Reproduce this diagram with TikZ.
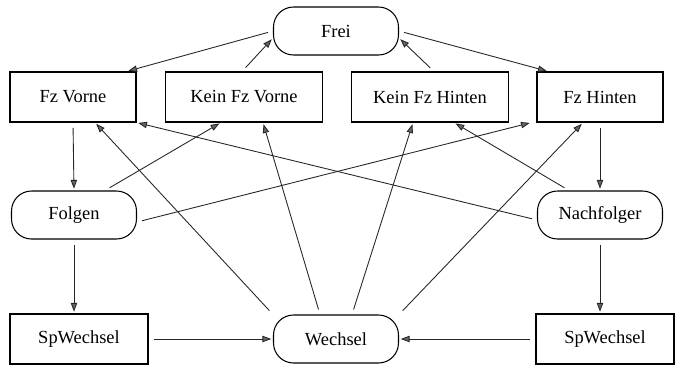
\documentclass[tikz,border=0pt]{standalone}
\usepackage{fontspec}
\setmainfont{Liberation Serif}
\newfontfamily\diagfont{Liberation Serif}
\usetikzlibrary{arrows.meta}

\begin{document}
\begin{tikzpicture}[
  x=0.02cm, y=-0.02cm,
  every node/.style={draw, line width=0.6pt, inner sep=2pt, minimum height=1cm,
    font=\diagfont\fontsize{10.5}{12}\selectfont},
  box/.style={rectangle, minimum width=2.52cm},
  widebox/.style={rectangle, minimum width=3.14cm},
  spbox/.style={rectangle, minimum width=2.76cm},
  rbox/.style={rectangle, rounded corners=0.4cm, minimum width=2.5cm, minimum height=0.96cm},
  link/.style={draw=black!85, line width=0.5pt, -{Triangle[length=5pt,width=3.6pt,fill=black!60]},
    shorten <=3pt, shorten >=1pt}
]
\useasboundingbox (0,0) rectangle (676,365);

\node[rbox] (frei) at (336,31) {Frei};
\node[box] (fzv) at (73,97) {Fz Vorne};
\node[widebox] (kfv) at (244,97) {Kein Fz Vorne};
\node[widebox] (kfh) at (430,97) {Kein Fz Hinten};
\node[box] (fzh) at (600,97) {Fz Hinten};
\node[rbox] (folgen) at (74,215) {Folgen};
\node[rbox] (nachf) at (600,215) {Nachfolger};
\node[spbox] (spl) at (79,339) {SpWechsel};
\node[rbox] (wechsel) at (336,339) {Wechsel};
\node[spbox] (spr) at (605,339) {SpWechsel};

\draw[link] (frei.west) -- ([xshift=-0.2cm]fzv.north east);
\draw[link] (frei.east) -- ([xshift=0.24cm]fzh.north west);
\draw[link] ([xshift=-0.04cm]kfv.north) -- ([yshift=-0.14cm]frei.west);
\draw[link] ([xshift=0.08cm]kfh.north) -- ([yshift=-0.14cm]frei.east);

\draw[link] (fzv.south) -- (folgen.north);
\draw[link] (fzh.south) -- (nachf.north);
\draw[link] ([xshift=0.62cm]folgen.north) -- ([xshift=1.12cm]kfv.south west);
\draw[link] ([yshift=-0.14cm]folgen.east) -- ([xshift=-0.1cm]fzh.south west);
\draw[link] ([yshift=-0.1cm]nachf.west) -- (fzv.south east);
\draw[link] ([xshift=-0.62cm]nachf.north) -- ([xshift=0.48cm]kfh.south);

\draw[link] (wechsel.north west) -- ([xshift=0.44cm]fzv.south);
\draw[link] ([xshift=-0.32cm]wechsel.north) -- ([xshift=0.38cm]kfv.south);
\draw[link] ([xshift=0.32cm]wechsel.north) -- ([xshift=-0.34cm]kfh.south);
\draw[link] (wechsel.north east) -- ([xshift=-0.34cm]fzh.south);

\draw[link] (folgen.south) -- (folgen.south |- spl.north);
\draw[link] (nachf.south) -- (nachf.south |- spr.north);
\draw[link] (spl.east) -- (wechsel.west);
\draw[link] (spr.west) -- (wechsel.east);
\end{tikzpicture}
\end{document}
